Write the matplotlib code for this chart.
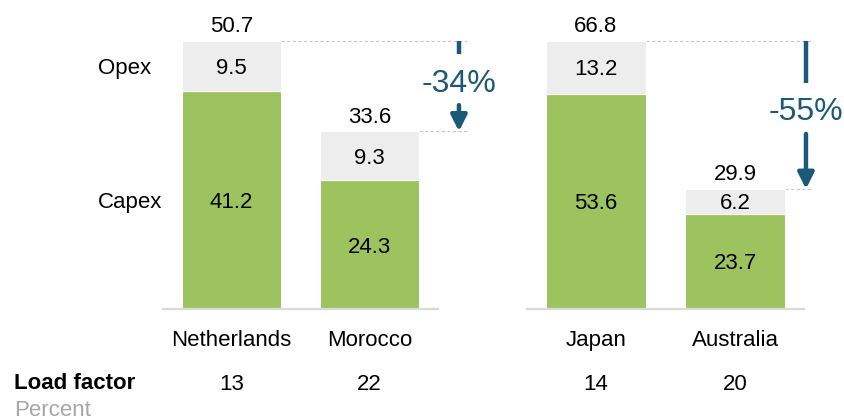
import matplotlib
matplotlib.use("Agg")
import matplotlib.pyplot as plt
import matplotlib.transforms as mtransforms

plt.rcParams['font.family'] = ['Liberation Sans', 'DejaVu Sans']

# ---- data ----
left_countries = ["Netherlands", "Morocco"]
left_capex = [41.2, 24.3]
left_opex = [9.5, 9.3]
left_total = [50.7, 33.6]
left_load = [13, 22]
left_change = "-34%"

right_countries = ["Japan", "Australia"]
right_capex = [53.6, 23.7]
right_opex = [13.2, 6.2]
right_total = [66.8, 29.9]
right_load = [14, 20]
right_change = "-55%"

series_labels = ["Opex", "Capex"]
row_label = "Load factor"
row_unit = "Percent"

# ---- style ----
GREEN = "#9dc35e"
GREY = "#ededed"
BLUE = "#1c5878"
BASE = "#d9d9d9"
DASH = "#c8c8c8"
FS = 16

W, H = 845, 419
DPI = 100
fig = plt.figure(figsize=(W / DPI, H / DPI), dpi=DPI)

baseline_px = 308.7
top_px = 41.0


def fig_y(py):
    return (H - py) / H


def make_axes(x0, x1):
    ax = fig.add_axes([x0 / W, fig_y(baseline_px), (x1 - x0) / W, baseline_px / H])
    ax.set_xlim(-0.5, 1.5)
    ax.axis("off")
    return ax


def px_per_unit(ax):
    a = ax.transData.transform((0, 0))[1]
    b = ax.transData.transform((0, 1))[1]
    return b - a


def panel(ax, countries, capex, opex, total, load, change, dash_end, arrow_x):
    ymax = max(total) * baseline_px / (baseline_px - top_px)
    ax.set_ylim(0, ymax)
    xs = list(range(len(countries)))
    w = 0.715
    ax.bar(xs, capex, width=w, color=GREEN, edgecolor="white", linewidth=0.8, zorder=2)
    ax.bar(xs, opex, width=w, bottom=capex, color=GREY, edgecolor="white", linewidth=0.8, zorder=2)
    ax.plot([-0.5, 1.5], [0, 0], color=BASE, lw=1.6, zorder=3, solid_capstyle="butt", clip_on=False)

    pt_off = -8 * 72 / DPI  # visual-centre to baseline offset for 16pt digits
    for i in xs:
        ax.annotate(f"{capex[i]}", (i, capex[i] / 2), xytext=(0, pt_off), textcoords="offset points",
                    ha="center", va="baseline", fontsize=FS, zorder=4, annotation_clip=False)
        ax.annotate(f"{opex[i]}", (i, capex[i] + opex[i] / 2), xytext=(0, pt_off), textcoords="offset points",
                    ha="center", va="baseline", fontsize=FS, zorder=4, annotation_clip=False)
        ax.annotate(f"{total[i]}", (i, total[i]), xytext=(0, 8.5 * 72 / DPI), textcoords="offset points",
                    ha="center", va="baseline", fontsize=FS, zorder=4, annotation_clip=False)
        # dashed reference line at each total
        ax.plot([i + w / 2, dash_end], [total[i], total[i]], color=DASH, lw=0.8,
                ls=(0, (3, 2)), clip_on=False, zorder=1)

    tr = mtransforms.blended_transform_factory(ax.transData, fig.transFigure)
    for i in xs:
        ax.text(i, fig_y(346), countries[i], transform=tr, ha="center", va="baseline", fontsize=FS)
        ax.text(i, fig_y(389.5), f"{load[i]}", transform=tr, ha="center", va="baseline", fontsize=FS)

    # change arrow
    ppu = px_per_unit(ax)
    hi, lo = total[0], total[1]
    mid = (hi + lo) / 2 + 6 / ppu
    up_gap = 26 / ppu
    dn_gap = 25 / ppu
    ax.plot([arrow_x, arrow_x], [hi, mid + up_gap], color=BLUE, lw=3.2,
            solid_capstyle="butt", clip_on=False)
    ax.annotate("", xy=(arrow_x, lo), xytext=(arrow_x, mid - dn_gap),
                arrowprops=dict(arrowstyle="-|>,head_length=0.95,head_width=0.48",
                                color=BLUE, lw=3.2, shrinkA=0, shrinkB=0, mutation_scale=10),
                annotation_clip=False)
    ax.annotate(change, (arrow_x, mid), xytext=(0, -11.4 * 72 / DPI), textcoords="offset points",
                ha="center", va="baseline", fontsize=23, color=BLUE, annotation_clip=False)


axL = make_axes(162, 439)
panel(axL, left_countries, left_capex, left_opex, left_total, left_load, left_change,
      dash_end=1.70, arrow_x=1.644)
axR = make_axes(526, 805)
panel(axR, right_countries, right_capex, right_opex, right_total, right_load, right_change,
      dash_end=1.557, arrow_x=1.507)

# series labels next to the first bar
trL = mtransforms.blended_transform_factory(fig.transFigure, axL.transData)
off = -8 * 72 / DPI
axL.annotate(series_labels[0], (98 / W, left_capex[0] + left_opex[0] / 2), xycoords=trL,
             xytext=(0, off), textcoords="offset points", ha="left", va="baseline", fontsize=FS,
             annotation_clip=False)
axL.annotate(series_labels[1], (98 / W, left_capex[0] / 2), xycoords=trL,
             xytext=(0, off), textcoords="offset points", ha="left", va="baseline", fontsize=FS,
             annotation_clip=False)

fig.text(14 / W, fig_y(388.5), row_label, ha="left", va="baseline", fontsize=FS, fontweight="bold")
fig.text(14 / W, fig_y(415.5), row_unit, ha="left", va="baseline", fontsize=FS, color="#a6a6a6")

fig.savefig("out.png", dpi=DPI)
